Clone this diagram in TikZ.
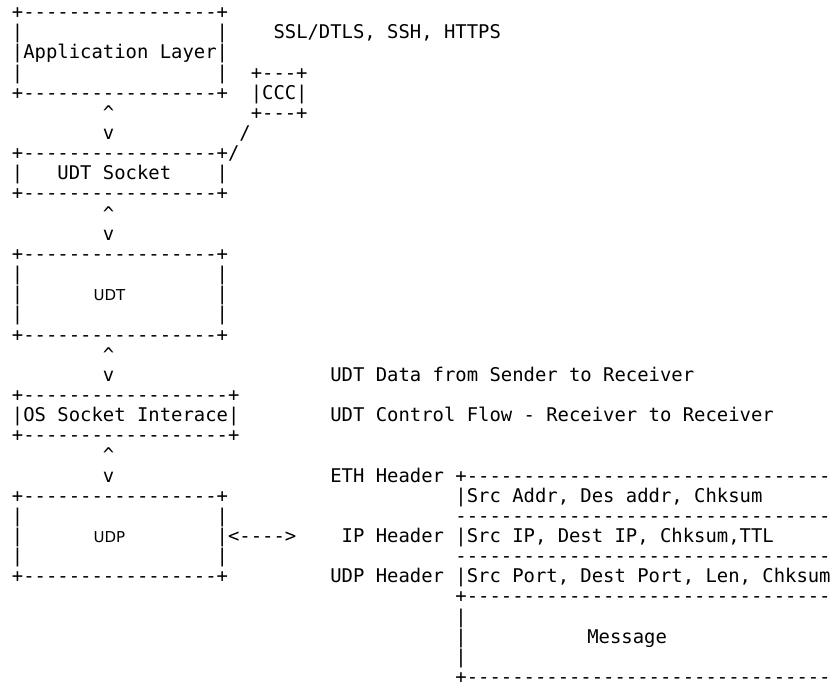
\documentclass[tikz,border=0pt]{standalone}
\usepackage{fontspec}
\setmonofont{DejaVu Sans Mono}
\newfontfamily\boxfont{DejaVu Sans}
\usepackage{tikz}
\usetikzlibrary{calc}

% character grid of the ascii drawing
\newcommand\cw{11.37}
\newcommand\lh{20.15}
\tikzset{
  ascii/.style={anchor=base west,inner sep=0pt,text=black,
    font=\ttfamily\fontsize{18.885}{20.2}\selectfont},
  boxlabel/.style={anchor=base,inner sep=0pt,text=black,
    font=\boxfont\fontsize{15}{18}\selectfont}
}
% \cell{name}{column}{row}{text}
\newcommand\cell[4]{\node[ascii] (#1) at ({11.8+#2*\cw},{-18.6-#3*\lh}) {#4};}

\begin{document}
\begin{tikzpicture}[x=1pt,y=1pt]
      \useasboundingbox (0,0) rectangle (834,-684);
      % application layer and CCC
      \cell{appTop}{0}{0}{+-----------------+}
      \cell{appL1}{0}{1}{|}
      \cell{appR1}{18}{1}{|}
      \cell{proto}{23}{1}{SSL/DTLS, SSH, HTTPS}
      \cell{app}{0}{2}{|Application Layer|}
      \cell{appL3}{0}{3}{|}
      \cell{appR3}{18}{3}{|}
      \cell{cccTop}{21}{3}{+---+}
      \cell{appBot}{0}{4}{+-----------------+}
      \cell{ccc}{21}{4}{|CCC|}
      \cell{up1}{8}{5}{\textasciicircum}
      \cell{cccBot}{21}{5}{+---+}
      \cell{dn1}{8}{6}{v}
      \cell{link1}{20}{6}{/}
      % UDT socket
      \cell{sockTop}{0}{7}{+-----------------+}
      \cell{link2}{19}{7}{/}
      \cell{sockL}{0}{8}{|}
      \cell{sock}{4}{8}{UDT Socket}
      \cell{sockR}{18}{8}{|}
      \cell{sockBot}{0}{9}{+-----------------+}
      \cell{up2}{8}{10}{\textasciicircum}
      \cell{dn2}{8}{11}{v}
      % UDT
      \cell{udtTop}{0}{12}{+-----------------+}
      \cell{udtL1}{0}{13}{|}
      \cell{udtR1}{18}{13}{|}
      \cell{udtL2}{0}{14}{|}
      \cell{udtR2}{18}{14}{|}
      \node[boxlabel] (udt) at (109.5,{-18.6-14*\lh}) {UDT};
      \cell{udtL3}{0}{15}{|}
      \cell{udtR3}{18}{15}{|}
      \cell{udtBot}{0}{16}{+-----------------+}
      \cell{up3}{8}{17}{\textasciicircum}
      \cell{dn3}{8}{18}{v}
      \cell{data}{28}{18}{UDT Data from Sender to Receiver}
      % OS socket
      \cell{osTop}{0}{19}{+------------------+}
      \cell{os}{0}{20}{|OS Socket Interace|}
      \cell{ctrl}{28}{20}{UDT Control Flow - Receiver to Receiver}
      \cell{osBot}{0}{21}{+------------------+}
      \cell{up4}{8}{22}{\textasciicircum}
      \cell{dn4}{8}{23}{v}
      % UDP
      \cell{ethLbl}{28}{23}{ETH Header}
      \cell{ethTop}{39}{23}{+--------------------------------}
      \cell{udpTop}{0}{24}{+-----------------+}
      \cell{eth}{39}{24}{|Src Addr, Des addr, Chksum}
      \cell{udpL1}{0}{25}{|}
      \cell{udpR1}{18}{25}{|}
      \cell{ethBot}{39}{25}{---------------------------------}
      \cell{udpL2}{0}{26}{|}
      \cell{udpR2}{18}{26}{|}
      \node[boxlabel] (udp) at (109.5,{-18.6-26*\lh}) {UDP};
      \cell{wire}{19}{26}{<---->}
      \cell{ipLbl}{29}{26}{IP Header}
      \cell{ip}{39}{26}{|Src IP, Dest IP, Chksum,TTL}
      \cell{udpL3}{0}{27}{|}
      \cell{udpR3}{18}{27}{|}
      \cell{ipBot}{39}{27}{---------------------------------}
      \cell{udpBot}{0}{28}{+-----------------+}
      \cell{udphLbl}{28}{28}{UDP Header}
      \cell{udph}{39}{28}{|Src Port, Dest Port, Len, Chksum}
      % message
      \cell{msgTop}{39}{29}{+--------------------------------}
      \cell{msgL1}{39}{30}{|}
      \cell{msgL2}{39}{31}{|}
      \cell{msg}{50.6}{31}{Message}
      \cell{msgL3}{39}{32}{|}
      \cell{msgBot}{39}{33}{+--------------------------------}
    \end{tikzpicture}
\end{document}
